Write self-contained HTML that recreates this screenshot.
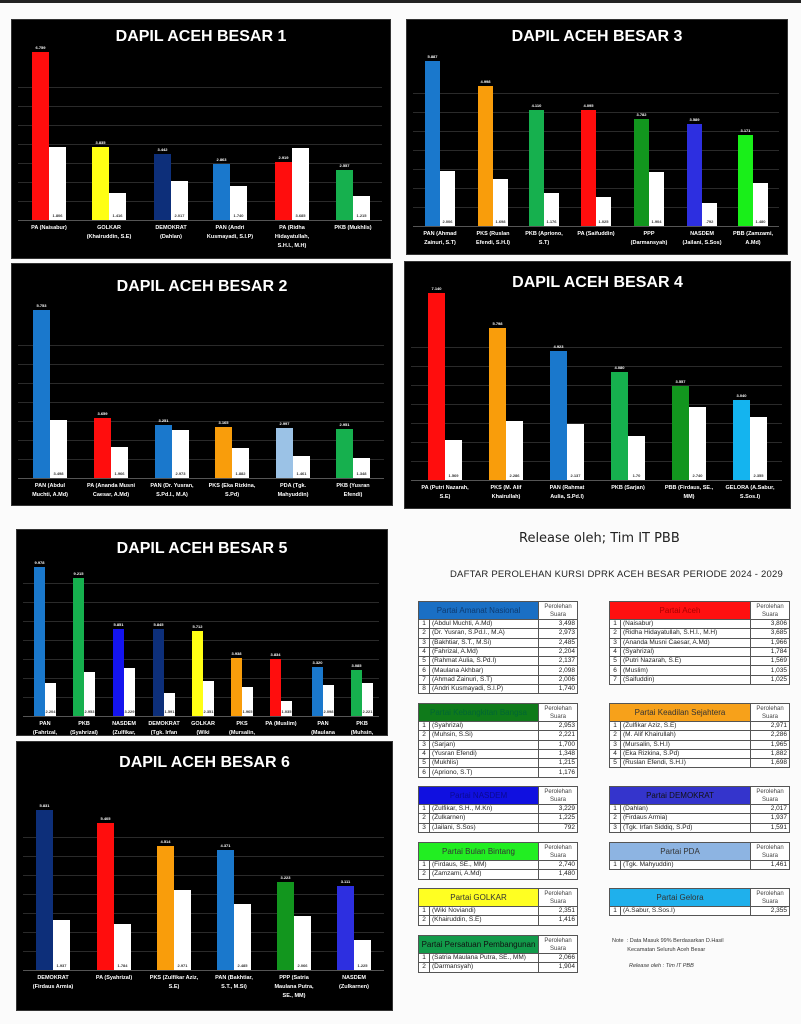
<!DOCTYPE html>
<html><head><meta charset="utf-8"><style>
body{margin:0;width:801px;height:1024px;background:#fbfbfb;position:relative;overflow:hidden;font-family:"Liberation Sans",sans-serif}
.p{position:absolute;background:#000;box-shadow:0 0 0 1px #333}
.t{position:absolute;color:#fff;font-weight:bold;text-align:center;left:0;right:0}
.b{position:absolute}
.g{position:absolute;height:1px;background:#2a2a2a}
.v{position:absolute;color:#fff;font-size:4px;font-weight:bold;text-align:center}
.l{position:absolute;color:#fff;font-size:5.5px;font-weight:bold;text-align:center;line-height:9px}
.tb{position:absolute;border-collapse:collapse;font-size:6.5px;color:#222}
.tb td{border:1px solid #555;padding:0 2px;height:8.3px;line-height:8px;white-space:nowrap;background:#fff}
.tb td.h{font-size:8px;text-align:center;height:17px;color:#222}
.tb td.ph{font-size:6px;text-align:center;color:#444;line-height:8px;width:34px}
.tb td.n{width:6px;text-align:center}
.tb td.r{text-align:right}
</style></head><body>
<div style="position:absolute;left:0;top:0;width:801px;height:3px;background:#222"></div>
<div id="root"></div>
<div style="position:absolute;left:519px;top:531px;font-size:13px;font-family:'DejaVu Sans',sans-serif;color:#222">Release oleh; Tim IT PBB</div>
<div style="position:absolute;left:450px;top:569px;font-size:9.5px;color:#222;letter-spacing:0.2px">DAFTAR PEROLEHAN KURSI DPRK ACEH BESAR PERIODE 2024 - 2029</div>
<div style="position:absolute;left:612px;top:937px;font-size:5.5px;color:#333;line-height:9px">Note &nbsp;: Data Masuk 99% Berdasarkan D.Hasil<br>&nbsp;&nbsp;&nbsp;&nbsp;&nbsp;&nbsp;&nbsp;&nbsp;&nbsp;&nbsp;Kecamatan Seluruh Aceh Besar</div>
<div style="position:absolute;left:629px;top:963px;font-size:5.5px;color:#333;font-style:italic">Release oleh : Tim IT PBB</div>
<script>
var R=document.getElementById('root'),h='';
function panel(x,y,w,hh,title,ts,ty,base,bw,gs){
 h+='<div class="p" style="left:'+x+'px;top:'+y+'px;width:'+w+'px;height:'+hh+'px;overflow:hidden">';
 h+='<div class="t" style="top:'+ty+'px;font-size:'+ts+'px">'+title+'</div>';
 for(var k=0;k<8;k++){var gy=base-y-k*19;if(gy>ty+ts+4)h+='<div class="g" style="left:6px;right:8px;top:'+gy+'px"></div>';}
 h+='<div class="g" style="left:6px;right:8px;top:'+(base-y)+'px;background:#555"></div>';
 gs.forEach(function(g){var bx=g[0]-x,c=g[1],t1=g[2]-y,t2=g[3]-y,b=base-y;
  h+='<div class="b" style="left:'+bx+'px;top:'+t1+'px;width:'+bw+'px;height:'+(b-t1)+'px;background:'+c+'"></div>';
  h+='<div class="b" style="left:'+(bx+bw)+'px;top:'+t2+'px;width:'+bw+'px;height:'+(b-t2)+'px;background:#fff"></div>';
  h+='<div class="v" style="left:'+(bx-6)+'px;width:'+(bw+12)+'px;top:'+(t1-7)+'px">'+g[4]+'</div>';
  h+='<div class="v" style="left:'+(bx+bw)+'px;width:'+bw+'px;top:'+(b-7)+'px;color:#333">'+g[5]+'</div>';
  h+='<div class="l" style="left:'+(bx-16)+'px;width:'+(2*bw+32)+'px;top:'+(b+4)+'px">'+g[6]+'</div>';
 });
 h+='</div>';
}
var RED='#ff0d0d',BLU='#1a78cc',GRN='#16b04e',ORG='#f99d0b',NAV='#0d2f7a',YEL='#ffff14',DG='#12961e',LG='#19ef19',NB='#2d2fe0';
panel(12,20,378,238,'DAPIL ACEH BESAR 1',16,8,220,17,[
[32,RED,52,147,'6.759','1.806','PA (Naisabur)'],
[92,YEL,147,193,'3.835','1.416','GOLKAR<br>(Khairuddin, S.E)'],
[154,NAV,154,181,'3.442','2.017','DEMOKRAT<br>(Dahlan)'],
[213,BLU,164,186,'2.863','1.740','PAN (Andri<br>Kusmayadi, S.I.P)'],
[275,RED,162,148,'2.919','3.685','PA (Ridha<br>Hidayatullah,<br>S.H.I., M.H)'],
[336,GRN,170,196,'2.557','1.215','PKB (Mukhlis)']]);
panel(407,20,380,234,'DAPIL ACEH BESAR 3',16,8,226,15,[
[425,BLU,61,171,'5.887','2.006','PAN (Ahmad<br>Zainuri, S.T)'],
[478,ORG,86,179,'4.998','1.698','PKS (Ruslan<br>Efendi, S.H.I)'],
[529,GRN,110,193,'4.110','1.176','PKB (Apriono,<br>S.T)'],
[581,RED,110,197,'4.095','1.025','PA (Saifuddin)'],
[634,DG,119,172,'3.782','1.904','PPP<br>(Darmansyah)'],
[687,NB,124,203,'3.589','.792','NASDEM<br>(Jailani, S.Sos)'],
[738,LG,135,183,'3.171','1.480','PBB (Zamzami,<br>A.Md)']]);
panel(12,264,380,241,'DAPIL ACEH BESAR 2',16,14,478,17,[
[33,BLU,310,420,'5.753','3.498','PAN (Abdul<br>Muchti, A.Md)'],
[94,RED,418,447,'3.659','1.966','PA (Ananda Musni<br>Caesar, A.Md)'],
[155,BLU,425,430,'3.251','2.973','PAN (Dr. Yusran,<br>S.Pd.I., M.A)'],
[215,ORG,427,448,'3.165','1.882','PKS (Eka Rizkina,<br>S.Pd)'],
[276,'#9bc2e6',428,456,'2.997','1.461','PDA (Tgk.<br>Mahyuddin)'],
[336,GRN,429,458,'2.951','1.348','PKB (Yusran<br>Efendi)']]);
panel(405,262,385,246,'DAPIL ACEH BESAR 4',16,12,480,17,[
[428,RED,293,440,'7.140','1.569','PA (Putri Nazarah,<br>S.E)'],
[489,ORG,328,421,'5.798','2.286','PKS (M. Alif<br>Khairullah)'],
[550,BLU,351,424,'4.923','2.137','PAN (Rahmat<br>Aulia, S.Pd.I)'],
[611,GRN,372,436,'4.080','1.70','PKB (Sarjan)'],
[672,DG,386,407,'3.557','2.740','PBB (Firdaus, SE.,<br>MM)'],
[733,'#14b4ef',400,417,'3.040','2.355','GELORA (A.Sabur,<br>S.Sos.I)']]);
panel(17,530,370,205,'DAPIL ACEH BESAR 5',16,10,716,11,[
[34,BLU,567,683,'9.978','2.204','PAN<br>(Fahrizal,<br>A.Md)'],
[73,GRN,578,672,'9.215','2.953','PKB<br>(Syahrizal)'],
[113,'#1414ee',629,668,'5.851','3.229','NASDEM<br>(Zulfikar,<br>S.H., M.Kn)'],
[153,NAV,629,693,'5.845','1.591','DEMOKRAT<br>(Tgk. Irfan<br>Siddiq,<br>S.Pd)'],
[192,YEL,631,681,'5.712','2.351','GOLKAR<br>(Wiki<br>Noviandi)'],
[231,ORG,658,687,'3.938','1.965','PKS<br>(Mursalin,<br>S.H.I)'],
[270,RED,659,701,'3.834','1.035','PA (Muslim)'],
[312,BLU,667,685,'3.320','2.098','PAN<br>(Maulana<br>Akhbar)'],
[351,GRN,670,683,'3.085','2.221','PKB<br>(Muhsin,<br>S.Si)']]);
panel(17,742,375,268,'DAPIL ACEH BESAR 6',16,12,970,17,[
[36,NAV,810,920,'5.831','1.937','DEMOKRAT<br>(Firdaus Armia)'],
[97,RED,823,924,'5.405','1.784','PA (Syahrizal)'],
[157,ORG,846,890,'4.514','2.971','PKS (Zulfikar Aziz,<br>S.E)'],
[217,BLU,850,904,'4.371','2.485','PAN (Bakhtiar,<br>S.T., M.Si)'],
[277,DG,882,916,'3.223','2.066','PPP (Satria<br>Maulana Putra,<br>SE., MM)'],
[337,NB,886,940,'3.111','1.225','NASDEM<br>(Zulkarnen)']]);
function table(x,y,w,title,col,tc,rows){
 h+='<table class="tb" style="left:'+x+'px;top:'+y+'px;width:'+w+'px"><tr><td class="h" colspan="2" style="background:'+col+';color:'+tc+'">'+title+'</td><td class="ph">Perolehan<br>Suara</td></tr>';
 rows.forEach(function(r,i){h+='<tr><td class="n">'+(i+1)+'</td><td>'+r[0]+'</td><td class="r">'+r[1]+'</td></tr>';});
 h+='</table>';
}
table(418,601,160,'Partai Amanat Nasional','#1a6fc4','#0d3a70',[['(Abdul Muchti, A.Md)','3,498'],['(Dr. Yusran, S.Pd.I., M.A)','2,973'],['(Bakhtiar, S.T., M.Si)','2,485'],['(Fahrizal, A.Md)','2,204'],['(Rahmat Aulia, S.Pd.I)','2,137'],['(Maulana Akhbar)','2,098'],['(Ahmad Zainuri, S.T)','2,006'],['(Andri Kusmayadi, S.I.P)','1,740']]);
table(609,601,181,'Partai Aceh','#ff1010','#a00',[['(Naisabur)','3,806'],['(Ridha Hidayatullah, S.H.I., M.H)','3,685'],['(Ananda Musni Caesar, A.Md)','1,966'],['(Syahrizal)','1,784'],['(Putri Nazarah, S.E)','1,569'],['(Muslim)','1,035'],['(Saifuddin)','1,025']]);
table(418,703,160,'Partai Kebangkitan Bangsa','#0f7a1a','#063',[['(Syahrizal)','2,953'],['(Muhsin, S.Si)','2,221'],['(Sarjan)','1,700'],['(Yusran Efendi)','1,348'],['(Mukhlis)','1,215'],['(Apriono, S.T)','1,176']]);
table(609,703,181,'Partai Keadilan Sejahtera','#f7a11a','#333',[['(Zulfikar Aziz, S.E)','2,971'],['(M. Alif Khairullah)','2,286'],['(Mursalin, S.H.I)','1,965'],['(Eka Rizkina, S.Pd)','1,882'],['(Ruslan Efendi, S.H.I)','1,698']]);
table(418,786,160,'Partai NASDEM','#1010e0','#0a0a90',[['(Zulfikar, S.H., M.Kn)','3,229'],['(Zulkarnen)','1,225'],['(Jailani, S.Sos)','792']]);
table(609,786,181,'Partai DEMOKRAT','#3434cc','#111',[['(Dahlan)','2,017'],['(Firdaus Armia)','1,937'],['(Tgk. Irfan Siddiq, S.Pd)','1,591']]);
table(418,842,160,'Partai Bulan Bintang','#22ee22','#333',[['(Firdaus, SE., MM)','2,740'],['(Zamzami, A.Md)','1,480']]);
table(609,842,181,'Partai PDA','#8db4e2','#333',[['(Tgk. Mahyuddin)','1,461']]);
table(418,888,160,'Partai GOLKAR','#ffff22','#333',[['(Wiki Noviandi)','2,351'],['(Khairuddin, S.E)','1,416']]);
table(609,888,181,'Partai Gelora','#1fb0ec','#333',[['(A.Sabur, S.Sos.I)','2,355']]);
table(418,935,160,'Partai Persatuan Pembangunan','#129a4a','#111',[['(Satria Maulana Putra, SE., MM)','2,066'],['(Darmansyah)','1,904']]);
R.innerHTML=h;
</script>
</body></html>
